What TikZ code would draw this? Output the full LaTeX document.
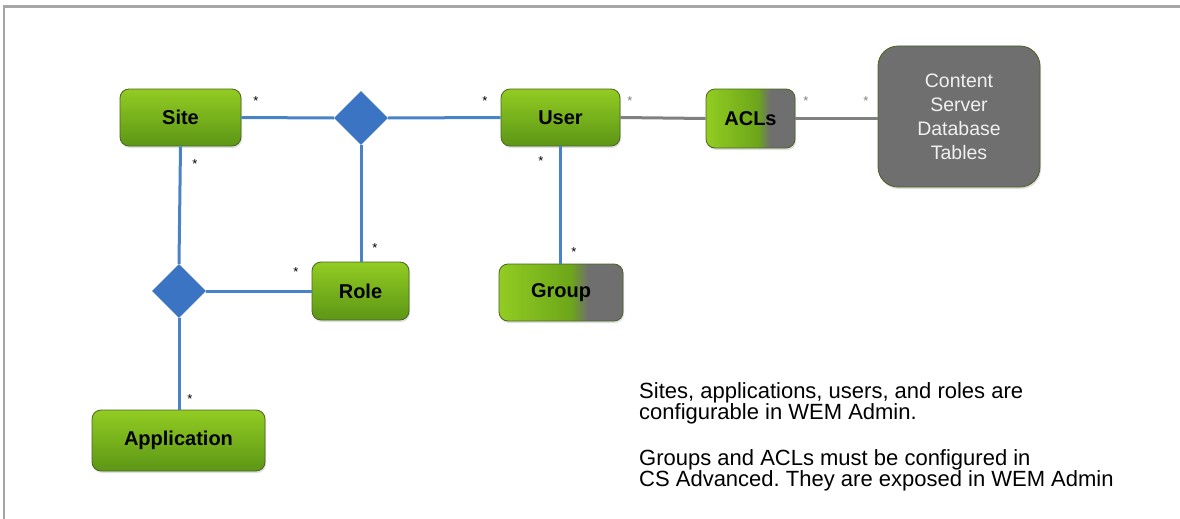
\documentclass[tikz,border=0pt]{standalone}
\usepackage{fontspec}
\setmainfont{Liberation Sans}
\usetikzlibrary{shapes.geometric,shadows}
\definecolor{gtop}{HTML}{92CC22}
\definecolor{gbot}{HTML}{5C9616}
\definecolor{gborder}{HTML}{4A6420}
\definecolor{dbgray}{HTML}{6F6F6F}
\definecolor{lblue}{HTML}{4A82C8}
\definecolor{dblue}{HTML}{3B74C2}
\definecolor{lgray}{HTML}{808080}
\definecolor{framec}{HTML}{A6A6A6}
\pgfdeclarehorizontalshading{greengray}{100bp}{color(0bp)=(gtop); color(25bp)=(gtop); color(54bp)=(gbot!70!gtop); color(61bp)=(dbgray); color(100bp)=(dbgray)}
\tikzset{
  ent/.style={draw=gborder, line width=0.8pt, rounded corners=9pt, top color=gtop, bottom color=gbot,
    font=\fontsize{20}{22}\selectfont\bfseries, text=black, inner sep=0pt,
    drop shadow={shadow xshift=1pt, shadow yshift=-2pt, opacity=0.25}},
  mixent/.style={ent, shading=greengray},
  rel/.style={diamond, fill=dblue, minimum width=54pt, minimum height=54pt, inner sep=0pt},
  bl/.style={draw=lblue, line width=3pt},
  gl/.style={draw=lgray, line width=3pt},
  st/.style={font=\fontsize{13}{13}\selectfont, text=black, inner sep=0pt},
  gst/.style={font=\fontsize{13}{13}\selectfont, text=lgray, inner sep=0pt},
  noteline/.style={anchor=base west, font=\fontsize{22}{22}\selectfont\frenchspacing, inner sep=0pt},
}
\begin{document}
\begin{tikzpicture}[x=1pt,y=-1pt]
\useasboundingbox (0,0) rectangle (1180,519);
\draw[framec, line width=2.5pt] (4,519) -- (4,6.5) -- (1180,6.5);

\node[ent, minimum width=121pt, minimum height=57pt] (site) at (180.5,117.5) {Site};
\node[rel] (d1) at (361,118) {};
\node[ent, minimum width=119pt, minimum height=57pt] (user) at (560.5,117.5) {User};
\node[mixent, minimum width=89pt, minimum height=59pt] (acls) at (750.5,118.5) {ACLs};
\node[draw=gborder, line width=0.8pt, rounded corners=20pt, fill=dbgray, minimum width=162pt, minimum height=141pt,
  text=white!94!black, align=center, font=\fontsize{19.5}{24}\selectfont, inner sep=0pt,
  drop shadow={shadow xshift=1pt, shadow yshift=-2pt, opacity=0.25}] (db) at (959,116.5) {Content\\Server\\Database\\Tables};
\node[ent, minimum width=97pt, minimum height=58pt] (role) at (360.5,291) {Role};
\node[mixent, minimum width=124pt, minimum height=57pt] (group) at (561,292.5) {Group};
\node[rel] (d2) at (179,291) {};
\node[ent, minimum width=173pt, minimum height=61pt] (app) at (178.5,440.5) {Application};

\path[bl] (site.east) -- (d1.west);
\path[bl] (d1.east) -- (user.west);
\path[bl] (d1.south) -- (role.north -| d1.south);
\path[bl] (site.south) -- (d2.north);
\path[bl] (d2.east) -- (role.west |- d2.east);
\path[bl] (d2.south) -- (app.north -| d2.south);
\path[bl] (user.south) -- (group.north -| user.south);
\path[gl] (user.east) -- (acls.west);
\path[gl] (acls.east) -- (db.west |- acls.east);

\node[st] (s1) at (256,101) {*};
\node[st] (s2) at (485,101) {*};
\node[st] (s3) at (195,164) {*};
\node[st] (s4) at (375,248) {*};
\node[st] (s5) at (296,272) {*};
\node[st] (s6) at (541,161) {*};
\node[st] (s7) at (574,252) {*};
\node[st] (s8) at (190,399) {*};
\node[gst] (s9) at (630,101) {*};
\node[gst] (s10) at (806,101) {*};
\node[gst] (s11) at (866,101) {*};

\node[noteline] (n1) at (639,398) {Sites, applications, users, and roles are};
\node[noteline] (n2) at (639,419) {configurable in WEM Admin.};
\node[noteline] (n3) at (639,465) {Groups and ACLs must be configured in};
\node[noteline] (n4) at (639,486) {CS Advanced. They are exposed in WEM Admin};
\end{tikzpicture}
\end{document}
